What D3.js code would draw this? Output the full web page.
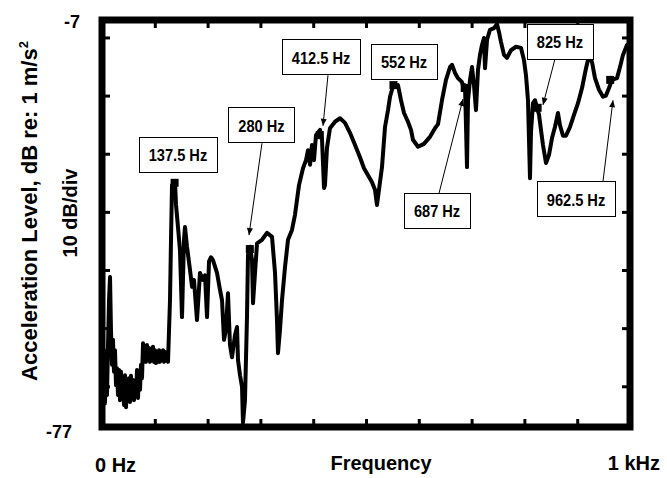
<!DOCTYPE html>
<meta charset="utf-8">
<style>
body { margin: 0; background: #fff; }
svg { display: block; font-family: "Liberation Sans", Arial, sans-serif; font-weight: bold; }
.frame { fill: none; stroke: #000; stroke-width: 7px; }
.ticks line { stroke: #000; stroke-width: 3px; }
.ticks path { display: none; }
.trace { fill: none; stroke: #000; stroke-width: 4px; stroke-linejoin: round; stroke-linecap: round; }
.note rect { fill: #fff; stroke: #000; stroke-width: 1px; }
.note line { stroke: #000; stroke-width: 1px; }
</style>

<svg width="667" height="478"></svg>

<script src="https://d3js.org/d3.v7.min.js"></script>
<script>

// spectrum (Hz, dB re 1 m/s^2)
var freqHz = [1.9, 3.8, 5.7, 7.6, 9.5, 11.4, 13.3, 15.2, 17.0, 18.9, 20.8, 22.7, 24.6, 26.5, 28.4, 30.3,
  32.2, 34.1, 36.0, 37.9, 39.8, 41.7, 43.6, 45.5, 47.3, 49.2, 51.1, 53.0, 54.9, 56.8, 58.7, 60.6,
  62.5, 64.4, 66.3, 68.2, 70.1, 72.0, 73.9, 75.8, 77.7, 79.5, 81.4, 83.3, 85.2, 87.1, 89.0, 90.9,
  92.8, 94.7, 96.6, 98.5, 100.4, 102.3, 104.2, 106.1, 108.0, 109.8, 111.7, 113.6, 115.5, 117.4,
  119.3, 121.2, 123.1, 125.0,
  128.8, 130.7, 132.6, 138.3, 140.2, 143.9, 147.7, 151.5, 155.3, 157.2, 161.0, 166.7,
  170.5, 174.2, 179.9, 185.6, 191.3, 195.1, 198.9, 202.7, 206.4, 210.2, 217.8, 223.5, 227.3, 231.1,
  234.8, 238.6, 242.4, 246.2, 251.9, 255.7, 257.6, 261.4, 265.2, 267.0, 270.8, 274.6, 276.5, 280.3,
  284.1, 286.0, 289.8, 293.6, 303.0, 312.5, 322.0, 327.7, 331.4, 333.3, 337.1, 340.9, 346.6, 352.3,
  359.8, 365.5, 373.1, 380.7, 386.4, 390.2, 394.0, 397.7, 401.5, 405.3, 412.9, 416.7, 420.5, 422.3,
  426.1, 431.8, 441.3, 450.8, 460.2, 469.7, 479.2, 488.6, 496.2, 503.8, 511.4, 517.0, 520.8, 524.6,
  530.3, 536.0, 541.7, 545.5, 551.1, 560.6, 566.3, 572.0, 579.5, 585.2, 589.0, 598.5, 609.8, 621.2,
  630.7, 636.4, 643.9, 651.5, 659.1, 662.9, 668.6, 674.2, 681.8, 685.6, 687.5, 691.3, 693.2, 697.0,
  700.8, 704.5, 708.3, 712.1, 715.9, 719.7, 723.5, 725.4, 729.2, 734.8, 742.4, 748.1, 751.9, 755.7,
  761.4, 767.0, 774.6, 784.1, 793.6, 799.2, 803.0, 806.8, 808.7, 810.6, 812.5, 816.3, 820.1, 823.9,
  827.7, 831.4, 835.2, 840.9, 846.6, 852.3, 857.9, 863.6, 867.4, 873.1, 878.8, 886.4, 893.9, 901.5,
  909.1, 916.7, 922.3, 928.0, 933.7, 941.3, 948.9, 954.5, 960.2, 965.9, 975.4, 981.1, 986.7, 994.3];

var levelDb = [-68.9, -63.8, -72.9, -64.6, -71.5, -62.9, -55.2, -51.2, -60.3, -66.3, -62.0, -67.5, -63.8, -69.8, -66.9, -71.5,
  -67.2, -72.4, -67.5, -72.0, -68.6, -73.2, -68.1, -73.6, -68.9, -72.4, -68.6, -72.7, -68.2, -72.0, -68.9, -72.4,
  -69.3, -71.7, -67.2, -72.0, -67.5, -70.6, -66.3, -68.6, -62.6, -65.5, -63.1, -65.8, -62.9, -65.5, -63.4, -65.8,
  -63.8, -65.5, -63.2, -65.8, -63.8, -66.0, -64.1, -65.8, -63.8, -65.8, -64.1, -65.5, -63.8, -65.8,
  -64.1, -65.6, -64.4, -65.8,
  -55.2, -44.8, -35.4, -34.9, -38.8, -42.6, -46.6, -58.1, -44.8, -42.6, -46.0, -50.0,
  -52.9, -51.7, -58.6, -50.5, -51.7, -50.9, -58.1, -48.5, -47.8, -48.3, -50.5, -53.4, -55.2, -62.0,
  -60.2, -54.0, -62.9, -65.0, -61.2, -59.8, -65.5, -68.1, -70.1, -76.3, -72.4, -58.1, -47.4, -46.0,
  -48.3, -55.7, -50.5, -45.4, -44.8, -43.6, -44.3, -50.5, -58.6, -64.3, -60.3, -55.2, -49.5, -44.8,
  -43.1, -40.5, -35.4, -32.5, -31.1, -29.4, -31.9, -28.5, -31.1, -26.8, -25.9, -27.6, -35.9, -35.4,
  -29.0, -25.6, -24.5, -23.9, -24.7, -26.4, -28.5, -30.6, -32.5, -33.7, -34.9, -36.2, -38.8, -36.2,
  -32.3, -25.4, -22.5, -20.2, -18.4, -18.2, -20.8, -23.0, -24.5, -25.9, -27.6, -28.8, -28.3, -27.1,
  -25.6, -24.9, -20.8, -17.3, -15.1, -14.7, -16.1, -17.0, -17.7, -19.0, -18.2, -32.3, -20.8, -17.3,
  -15.1, -18.2, -22.5, -15.6, -13.0, -11.3, -10.1, -15.3, -10.4, -8.7, -8.4, -7.7, -9.1, -10.8,
  -13.0, -13.5, -12.2, -11.6, -11.8, -13.9, -16.5, -20.8, -27.6, -34.2, -26.2, -21.3, -20.8, -22.1,
  -23.3, -25.9, -28.5, -31.6, -30.2, -27.3, -25.4, -23.0, -25.1, -26.9, -26.9, -25.4, -23.3, -21.3,
  -18.7, -15.3, -13.2, -14.2, -17.0, -19.0, -20.2, -20.0, -18.7, -17.3, -17.0, -15.1, -13.0, -11.3];

// axis
var xTicks = [100, 200, 300, 400, 500, 600, 700, 800, 900];
var yTicks = [-10, -20, -30, -40, -50, -60, -70];

// annotations
var noteText  = ["137.5 Hz", "280 Hz", "412.5 Hz", "552 Hz", "687 Hz", "825 Hz", "962.5 Hz"];
var noteHz    = [137.5, 280, 412.5, 552, 687, 825, 962.5];
var noteDb    = [-35.0, -46.4, -26.8, -18.2, -18.7, -22.1, -17.3];
var boxHz     = [143.9, 302.1, 414.8, 572.0, 634.5, 867.4, 897.7];
var boxDb     = [-30.2, -25.1, -13.4, -14.2, -39.8, -10.7, -37.8];
var tailHz    = [null, 303.0, 428.0, null, 638.3, 857.9, 948.9];
var tailDb    = [null, -28.2, -16.5, null, -36.8, -13.7, -34.7];
var tipHz     = [null, 278.4, 418.6, null, 683.7, 835.2, 967.8];
var tipDb     = [null, -44.0, -25.2, null, -20.6, -21.6, -20.8];

var svg = d3.select("svg");

var x = d3.scaleLinear().domain([0, 1000]).range([102, 630]);
var y = d3.scaleLinear().domain([-77, -7]).range([427, 20]);

var spectrum = freqHz.map(function(f, i) { return [f, levelDb[i]]; });

var line = d3.line()
    .x(function(d) { return x(d[0]); })
    .y(function(d) { return y(d[1]); });

svg.append("path")
    .datum(spectrum)
    .attr("class", "trace")
    .attr("d", line);

// markers on the picked peaks
svg.append("g").selectAll("rect")
    .data(noteHz)
    .enter().append("rect")
      .attr("x", function(d) { return x(d) - 4; })
      .attr("y", function(d, i) { return y(noteDb[i]) - 4; })
      .attr("width", 8)
      .attr("height", 8)
      .attr("fill", "#000");

// frame + inward ticks
svg.append("g").attr("class", "ticks")
    .attr("transform", "translate(0," + y(-77) + ")")
    .call(d3.axisBottom(x).tickValues(xTicks).tickSize(-8).tickFormat(""));
svg.append("g").attr("class", "ticks")
    .attr("transform", "translate(0," + y(-7) + ")")
    .call(d3.axisTop(x).tickValues(xTicks).tickSize(-8).tickFormat(""));
svg.append("g").attr("class", "ticks")
    .attr("transform", "translate(" + x(0) + ",0)")
    .call(d3.axisLeft(y).tickValues(yTicks).tickSize(-8).tickFormat(""));
svg.append("g").attr("class", "ticks")
    .attr("transform", "translate(" + x(1000) + ",0)")
    .call(d3.axisRight(y).tickValues(yTicks).tickSize(-8).tickFormat(""));

svg.append("rect")
    .attr("class", "frame")
    .attr("x", x(0))
    .attr("y", y(-7))
    .attr("width", x(1000) - x(0))
    .attr("height", y(-77) - y(-7));

// arrows
noteText.forEach(function(t, i) {
  if (tailHz[i] == null) return;
  var x1 = x(tailHz[i]), y1 = y(tailDb[i]), x2 = x(tipHz[i]), y2 = y(tipDb[i]);
  var a = Math.atan2(y2 - y1, x2 - x1);
  var g = svg.append("g").attr("class", "note");
  g.append("line").attr("x1", x1).attr("y1", y1).attr("x2", x2).attr("y2", y2);
  var len = 7, half = 3;
  var bx = x2 - len * Math.cos(a), by = y2 - len * Math.sin(a);
  g.append("path")
      .attr("d", "M" + x2 + "," + y2 +
                 "L" + (bx + half * Math.sin(a)) + "," + (by - half * Math.cos(a)) +
                 "L" + (bx - half * Math.sin(a)) + "," + (by + half * Math.cos(a)) + "Z")
      .attr("fill", "#000");
});

// boxes
noteText.forEach(function(t, i) {
  var cx = x(boxHz[i]), cy = y(boxDb[i]);
  var g = svg.append("g").attr("class", "note");
  var box = g.append("rect");
  var txt = g.append("text")
      .attr("transform", "translate(" + cx + "," + (cy + 6.5) + ") scale(0.86,1)")
      .attr("text-anchor", "middle")
      .style("font-size", "17px")
      .text(t);
  var w = txt.node().getComputedTextLength() * 0.86 + 20;
  box.attr("x", Math.round(cx - w / 2) + 0.5)
     .attr("y", Math.round(cy - 18) + 0.5)
     .attr("width", Math.round(w))
     .attr("height", 35);
});

// axis texts
svg.append("text")
    .attr("x", 80).attr("y", 28)
    .attr("text-anchor", "end")
    .style("font-size", "18px")
    .text("-7");
svg.append("text")
    .attr("x", 72).attr("y", 438)
    .attr("text-anchor", "end")
    .style("font-size", "18px")
    .text("-77");

svg.append("text")
    .attr("x", 95).attr("y", 472)
    .style("font-size", "20px")
    .text("0 Hz");
svg.append("text")
    .attr("x", 381).attr("y", 470)
    .attr("text-anchor", "middle")
    .style("font-size", "20px")
    .text("Frequency");
svg.append("text")
    .attr("x", 660).attr("y", 470)
    .attr("text-anchor", "end")
    .style("font-size", "20px")
    .text("1 kHz");

var ylab = svg.append("text")
    .attr("transform", "translate(37,211) rotate(-90)")
    .attr("text-anchor", "middle")
    .style("font-size", "22px");
ylab.append("tspan").text("Acceleration Level, dB re: 1 m/s");
ylab.append("tspan").attr("dy", -9).style("font-size", "13px").text("2");

svg.append("text")
    .attr("transform", "translate(77,213) rotate(-90)")
    .attr("text-anchor", "middle")
    .style("font-size", "20px")
    .text("10 dB/div");

</script>
